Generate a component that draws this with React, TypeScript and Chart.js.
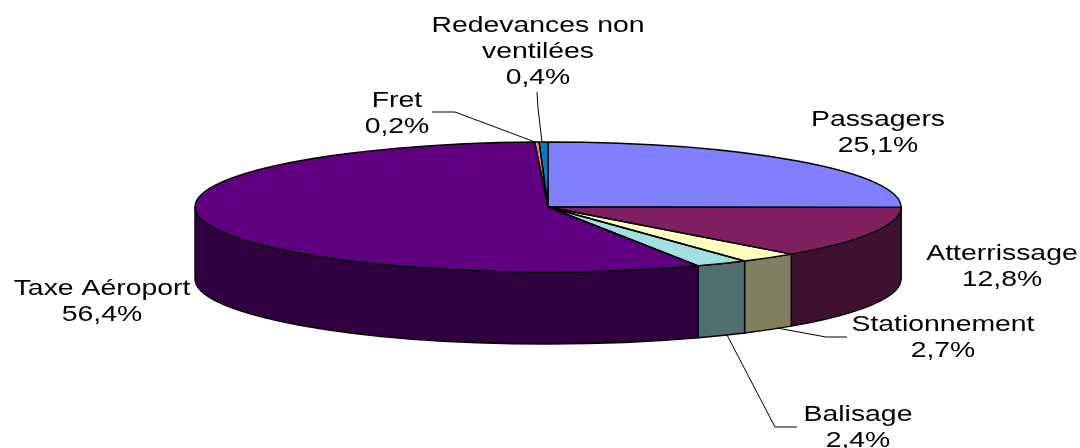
import React, { useEffect, useRef } from "react";
import { Chart, registerables } from "chart.js";

Chart.register(...registerables);

const categories = ["Passagers", "Atterrissage", "Stationnement", "Balisage", "Taxe Aéroport", "Fret", "Redevances non ventilées"];
const shares = [25.1, 12.8, 2.7, 2.4, 56.4, 0.2, 0.4];
const shareLabels = ["25,1%", "12,8%", "2,7%", "2,4%", "56,4%", "0,2%", "0,4%"];
const topColors = ["#8080FF", "#802060", "#FFFFC0", "#A0E0E0", "#600080", "#FF8080", "#0080C0"];
const sideColors = ["#404080", "#401030", "#808060", "#507070", "#300040", "#804040", "#004060"];

// Layout of the projected pie and its captions (not data).
const PIE = { cx: 548, cy: 207, rx: 353, ry: 65, depth: 72 };
const TEXT_STRETCH = 1.29;
const captionLines = [["Passagers"], ["Atterrissage"], ["Stationnement"], ["Balisage"], ["Taxe Aéroport"], ["Fret"], ["Redevances non", "ventilées"]];
const captionAnchors = [
  { x: 878, y: 126 },
  { x: 1002, y: 260 },
  { x: 943, y: 331 },
  { x: 858, y: 421 },
  { x: 102, y: 295 },
  { x: 397, y: 107 },
  { x: 538, y: 32 },
];
const leaders = [
  [[847, 337], [826, 337], [777, 328]],
  [[797, 427], [775, 427], [727, 335]],
  [[432, 112], [455, 112], [535, 142]],
  [[537, 92], [538, 108], [542, 142]],
];

const projectedPie = {
  id: "projectedPie",
  beforeDatasetsDraw(chart: any) {
    const ctx = chart.ctx;
    const arcs = chart.getDatasetMeta(0).data;
    const { cx, cy, rx, ry, depth } = PIE;
    ctx.save();
    ctx.lineWidth = 1.4;
    ctx.strokeStyle = "#000";
    ctx.lineJoin = "round";
    arcs.forEach((arc: any, i: number) => {
      const a0 = Math.max(arc.startAngle, 0);
      const a1 = Math.min(arc.endAngle, Math.PI);
      if (a1 <= a0) return;
      ctx.beginPath();
      ctx.ellipse(cx, cy, rx, ry, 0, a0, a1);
      ctx.ellipse(cx, cy + depth, rx, ry, 0, a1, a0, true);
      ctx.closePath();
      ctx.fillStyle = sideColors[i];
      ctx.fill();
      ctx.stroke();
    });
    ctx.restore();

    const first = arcs[0];
    const R = first.outerRadius;
    ctx.save();
    ctx.translate(cx, cy);
    ctx.scale(rx / R, ry / R);
    ctx.translate(-first.x, -first.y);
  },
  afterDatasetsDraw(chart: any) {
    const ctx = chart.ctx;
    ctx.restore();
    const { cx, cy, rx, ry } = PIE;
    ctx.save();
    ctx.lineWidth = 1.4;
    ctx.strokeStyle = "#000";
    ctx.lineJoin = "round";
    chart.getDatasetMeta(0).data.forEach((arc: any) => {
      ctx.beginPath();
      ctx.moveTo(cx, cy);
      ctx.ellipse(cx, cy, rx, ry, 0, arc.startAngle, arc.endAngle);
      ctx.closePath();
      ctx.stroke();
    });
    ctx.restore();
  },
  afterDraw(chart: any) {
    const ctx = chart.ctx;
    ctx.save();
    ctx.lineWidth = 1;
    ctx.strokeStyle = "#000";
    leaders.forEach((pts) => {
      ctx.beginPath();
      pts.forEach(([x, y], k) => (k === 0 ? ctx.moveTo(x, y) : ctx.lineTo(x, y)));
      ctx.stroke();
    });
    ctx.fillStyle = "#000";
    ctx.font = '22px "Liberation Sans", Arial, sans-serif';
    ctx.textAlign = "center";
    ctx.textBaseline = "alphabetic";
    captionLines.forEach((lines, i) => {
      const { x, y } = captionAnchors[i];
      [...lines, shareLabels[i]].forEach((line, k) => {
        ctx.save();
        ctx.translate(x, y + k * 26);
        ctx.scale(TEXT_STRETCH, 1);
        ctx.fillText(line, 0, 0);
        ctx.restore();
      });
    });
    ctx.restore();
  },
};

export default function App() {
  const ref = useRef<HTMLCanvasElement>(null);
  useEffect(() => {
    const chart = new Chart(ref.current as HTMLCanvasElement, {
      type: "pie",
      data: {
        labels: categories,
        datasets: [
          {
            data: shares,
            backgroundColor: topColors,
            borderWidth: 0,
            clip: false,
          } as any,
        ],
      },
      options: {
        responsive: false,
        animation: false,
        devicePixelRatio: 1,
        rotation: 0,
        layout: { padding: 0 },
        plugins: { legend: { display: false }, tooltip: { enabled: false }, title: { display: false } },
      },
      plugins: [projectedPie],
    } as any);
    return () => chart.destroy();
  }, []);
  return (
    <div style={{ position: "absolute", left: 0, top: 0, width: 1080, height: 448, background: "#fff" }}>
      <canvas ref={ref} width={1080} height={448} style={{ display: "block" }} />
    </div>
  );
}
